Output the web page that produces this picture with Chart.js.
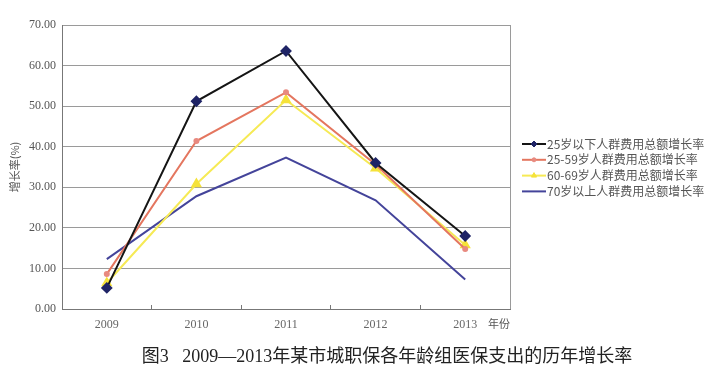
<!DOCTYPE html>
<html>
<head>
<meta charset="utf-8">
<script src="https://cdn.jsdelivr.net/npm/chart.js@4"></script>
<style>
  body { margin: 0; background: #fff; }
  #wrap { width: 714px; height: 374px; }
</style>
</head>
<body>
<div id="wrap"><canvas id="mainchart" width="714" height="374"></canvas></div>
<script>
const years = ['2009', '2010', '2011', '2012', '2013'];
const under25 = [5.2, 51.2, 63.6, 36.0, 18.0];
const age25to59 = [8.6, 41.4, 53.4, 35.6, 14.8];
const age60to69 = [6.4, 30.8, 51.5, 34.7, 15.8];
const over70 = [12.3, 27.8, 37.3, 26.8, 7.3];
const yTicks = [0, 10, 20, 30, 40, 50, 60, 70];

const seriesNames = [
  '25岁以下人群费用总额增长率',
  '25-59岁人群费用总额增长率',
  '60-69岁人群费用总额增长率',
  '70岁以上人群费用总额增长率'
];
const caption = '图3   2009—2013年某市城职保各年龄组医保支出的历年增长率';

const ctx = document.getElementById('mainchart');

/* legend with line + marker, drawn by hand */
const sideLegend = {
  id: 'sideLegend',
  afterDraw(chart) {
    const c = chart.ctx;
    c.save();
    var x = 522, y = 144;
    chart.data.datasets.forEach((ds, i) => {
      var yy = y + i * 15.8;
      c.strokeStyle = ds.borderColor;
      c.lineWidth = 2;
      c.beginPath();
      c.moveTo(x, yy);
      c.lineTo(x + 24, yy);
      c.stroke();
      if (ds.pointRadius > 0) {
        c.fillStyle = ds.pointBackgroundColor;
        c.strokeStyle = ds.pointBorderColor;
        c.lineWidth = 1;
        Chart.helpers.drawPoint(c, {
          pointStyle: ds.pointStyle,
          radius: Math.min(ds.pointRadius, 3),
          borderWidth: 1
        }, x + 12, yy);
      }
      c.fillStyle = '#555';
      c.font = '12px "Noto Sans CJK SC", sans-serif';
      c.textBaseline = 'middle';
      c.textAlign = 'left';
      c.fillText(ds.label, x + 25, yy);
    });

    /* axis unit + caption */
    c.fillStyle = '#555';
    c.font = '11px "Noto Sans CJK SC", sans-serif';
    c.textAlign = 'left';
    c.fillText('年份', 488, 324);

    c.fillStyle = '#222';
    c.font = '18px "Liberation Serif", "Noto Sans CJK SC", serif';
    c.textAlign = 'center';
    c.fillText(caption, 387, 357);
    c.restore();
  }
};

const config = {
  type: 'line',
  data: {
    labels: years,
    datasets: [
      {
        label: seriesNames[0],
        data: under25,
        borderColor: '#151515',
        borderWidth: 2,
        pointStyle: 'rectRot',
        pointRadius: 4.5,
        pointBackgroundColor: '#1f2466',
        pointBorderColor: '#1f2466',
        tension: 0
      },
      {
        label: seriesNames[1],
        data: age25to59,
        borderColor: '#e4765f',
        borderWidth: 2,
        pointStyle: 'circle',
        pointRadius: 2,
        pointBackgroundColor: '#e88a80',
        pointBorderColor: '#e88a80',
        tension: 0
      },
      {
        label: seriesNames[2],
        data: age60to69,
        borderColor: '#f6ea55',
        borderWidth: 2,
        pointStyle: 'triangle',
        pointRadius: 4.5,
        pointBackgroundColor: '#f5e23a',
        pointBorderColor: '#f5e23a',
        tension: 0
      },
      {
        label: seriesNames[3],
        data: over70,
        borderColor: '#44449a',
        borderWidth: 2,
        pointRadius: 0,
        tension: 0
      }
    ]
  },
  options: {
    responsive: false,
    animation: false,
    layout: { padding: { left: 8, right: 204, top: 25, bottom: 0 } },
    plugins: {
      legend: false,
      tooltip: { enabled: false }
    },
    scales: {
      x: {
        offset: true,
        afterFit(scale) { scale.height = 65; },
        grid: {
          display: true,
          offset: true,
          drawOnChartArea: false,
          tickLength: -4,
          color: '#777'
        },
        border: { color: '#777' },
        ticks: {
          color: '#666',
          padding: 13,
          font: { family: '"Liberation Serif", serif', size: 12 }
        }
      },
      y: {
        min: 0,
        max: 70,
        afterFit(scale) { scale.width = 54; },
        afterBuildTicks(scale) { scale.ticks = yTicks.map(v => ({ value: v })); },
        grid: { color: '#9a9a9a', drawTicks: false },
        border: { color: '#777' },
        title: {
          display: true,
          text: '增长率(%)',
          color: '#555',
          padding: { top: 0, bottom: 0 },
          font: { family: '"Noto Sans CJK SC", sans-serif', size: 11 }
        },
        ticks: {
          color: '#555',
          padding: 6,
          font: { family: '"Liberation Serif", serif', size: 12 },
          callback: v => v.toFixed(2)
        }
      }
    }
  },
  plugins: [sideLegend, {
    id: 'rightBorder',
    beforeDatasetsDraw(chart) {
      const a = chart.chartArea, c = chart.ctx;
      c.save();
      c.strokeStyle = '#9a9a9a';
      c.lineWidth = 1;
      c.beginPath();
      c.moveTo(a.right + 0.5, a.top);
      c.lineTo(a.right + 0.5, a.bottom);
      c.stroke();
      c.restore();
    }
  }]
};

var mainchart = new Chart(ctx, config);
</script>
</body>
</html>
